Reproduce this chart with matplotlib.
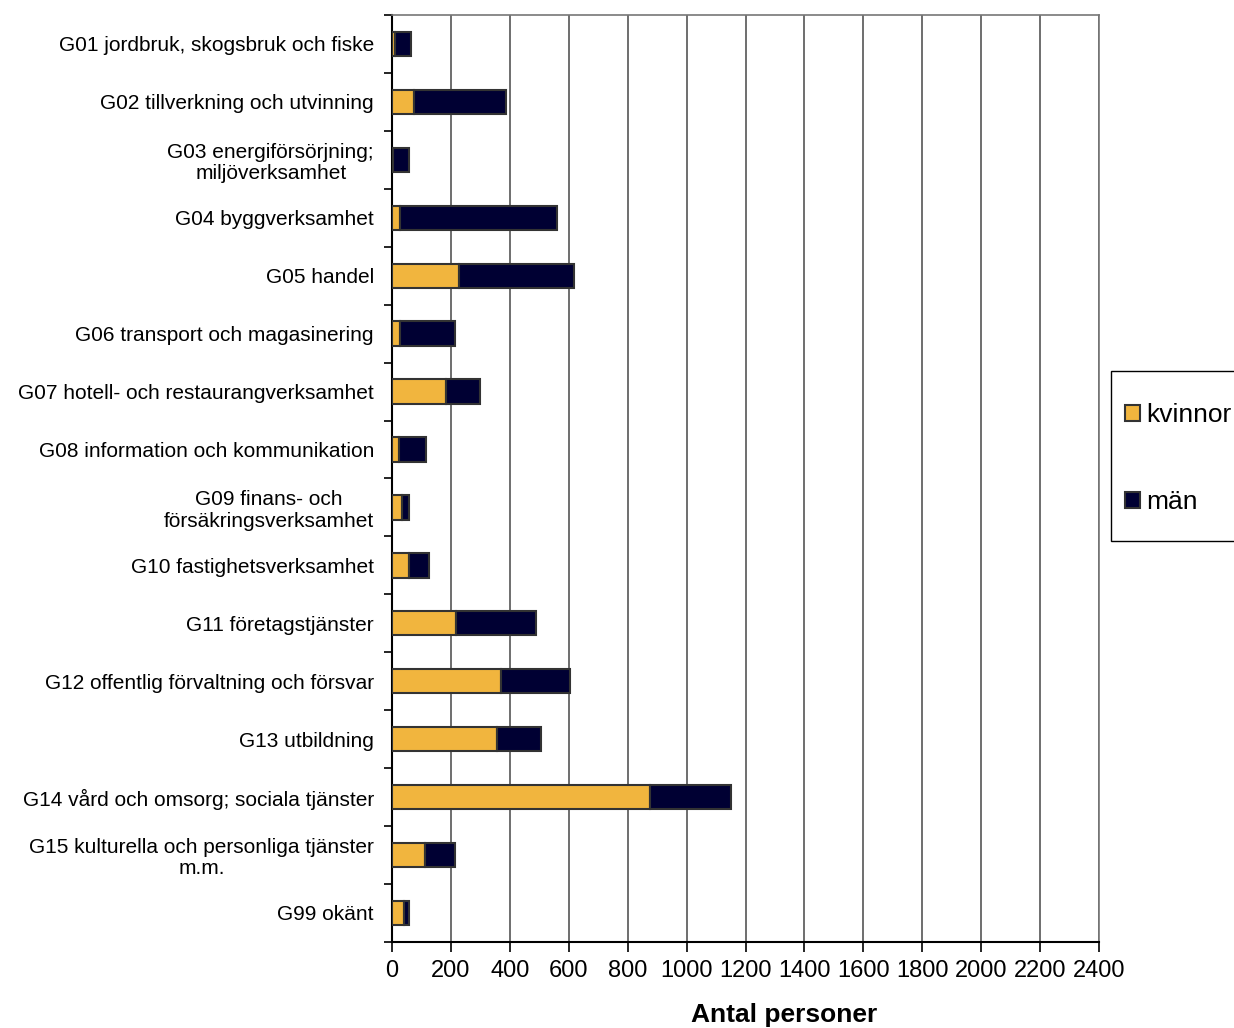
import matplotlib
matplotlib.use("Agg")
import matplotlib.pyplot as plt
from matplotlib.patches import Rectangle
import numpy as np

plt.rcParams['font.family'] = ['Liberation Sans', 'DejaVu Sans']

categories = [
    "G01 jordbruk, skogsbruk och fiske",
    "G02 tillverkning och utvinning",
    "G03 energiförsörjning;\nmiljöverksamhet",
    "G04 byggverksamhet",
    "G05 handel",
    "G06 transport och magasinering",
    "G07 hotell- och restaurangverksamhet",
    "G08 information och kommunikation",
    "G09 finans- och\nförsäkringsverksamhet",
    "G10 fastighetsverksamhet",
    "G11 företagstjänster",
    "G12 offentlig förvaltning och försvar",
    "G13 utbildning",
    "G14 vård och omsorg; sociala tjänster",
    "G15 kulturella och personliga tjänster\nm.m.",
    "G99 okänt",
]
kvinnor = [10, 73, 3, 28, 229, 28, 182, 22, 34, 56, 217, 369, 356, 877, 113, 39]
man = [53, 314, 54, 533, 389, 186, 117, 92, 23, 68, 271, 236, 149, 275, 101, 18]
xticks = list(range(0, 2401, 200))

col_k = '#F1B53E'
col_m = '#000033'

fig = plt.figure(figsize=(12.34, 10.28), dpi=100)
ax = fig.add_axes([0.3177, 0.0837, 0.5729, 0.9017])

y = np.arange(len(categories))
ax.barh(y, kvinnor, height=0.42, color=col_k, edgecolor='#333333', linewidth=1.5,
        label='kvinnor', zorder=3)
ax.barh(y, man, left=kvinnor, height=0.42, color=col_m, edgecolor='#333333',
        linewidth=1.5, label='män', zorder=3)

ax.set_ylim(len(categories) - 0.5, -0.5)
ax.set_xlim(0, 2400)
ax.set_xticks(xticks)
ax.set_xticklabels([str(t) for t in xticks], fontsize=17)
ax.set_yticks(y)
ax.set_yticklabels(categories, fontsize=15, multialignment='center', linespacing=1.15)
ax.tick_params(axis='y', which='major', length=0, pad=13)
ax.set_yticks(np.arange(-0.5, len(categories) + 0.5, 1), minor=True)
ax.tick_params(axis='y', which='minor', length=6, width=1.2, color='black')
ax.tick_params(axis='x', length=7, width=1.2, pad=6, direction='out')

ax.grid(axis='x', color='#555555', linewidth=1.2, zorder=0)
ax.set_axisbelow(True)
for s in ['top', 'right']:
    ax.spines[s].set_color('#777777')
    ax.spines[s].set_linewidth(1.2)
for s in ['left', 'bottom']:
    ax.spines[s].set_color('black')
    ax.spines[s].set_linewidth(1.5)

ax.set_xlabel('Antal personer', fontsize=19, fontweight='bold')
ax.xaxis.set_label_coords(0.554, -0.066)

# legend frame drawn separately so it can run off the right edge like the original
fig.patches.append(Rectangle((0.9003, 0.4737), 0.2, 0.1654, transform=fig.transFigure,
                             facecolor='white', edgecolor='black', linewidth=1.0))
leg = fig.legend(loc='upper left', bbox_to_anchor=(0.9117, 0.608), fontsize=19,
                 frameon=False, handlelength=0.55, handleheight=0.55,
                 handletextpad=0.25, labelspacing=2.4, borderpad=0,
                 borderaxespad=0)

fig.savefig('out.png', dpi=100)
